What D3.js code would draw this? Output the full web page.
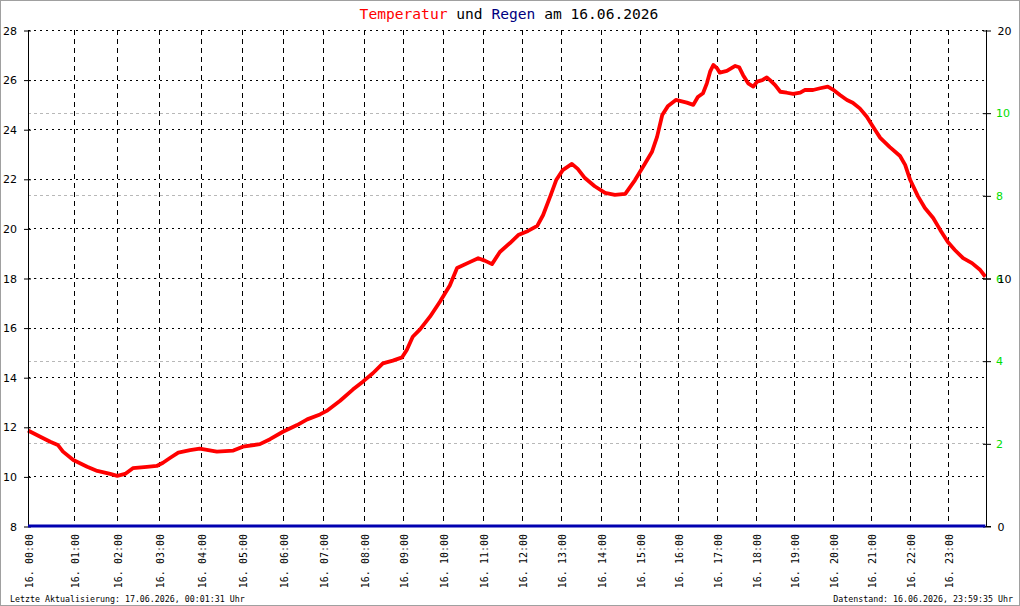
<!DOCTYPE html>
<html>
<head>
<meta charset="utf-8">
<script src="https://cdn.jsdelivr.net/npm/d3@7"></script>
<style>
  body { margin: 0; background: #fff; }
  svg { display: block; }
  .lbl { font-family: "DejaVu Sans", sans-serif; font-size: 11px; }
  .mono { font-family: "DejaVu Sans Mono", monospace; }
</style>
</head>
<body>
<div id="container"></div>
<script>
// temperature readings
var tempTimes = ["00:00","00:15","00:28","00:38","00:45","00:59","01:18","01:32","01:50","02:00",
  "02:11","02:22","02:42","02:56","03:05","03:15","03:27","03:44","03:58","04:23",
  "04:47","05:01","05:26","05:41","06:00","06:21","06:36","06:55","07:05","07:25",
  "07:44","07:59","08:14","08:29","08:44","08:58","09:05","09:14","09:25","09:40",
  "09:55","10:10","10:21","10:41","10:53","11:03","11:14","11:26","11:41","11:54",
  "12:09","12:23","12:32","12:43","12:52","13:02","13:16","13:25","13:36","13:51",
  "14:07","14:22","14:38","14:53","15:08","15:19","15:27","15:35","15:44","15:56",
  "16:13","16:23","16:30","16:38","16:44","16:49","16:54","17:00","17:04","17:15",
  "17:28","17:34","17:40","17:48","17:56","18:02","18:10","18:17","18:22","18:30",
  "18:38","18:48","18:58","19:09","19:16","19:29","19:40","19:52","20:00","20:11",
  "20:22","20:31","20:42","20:53","21:01","21:06","21:14","21:29","21:45","21:53",
  "22:01","22:13","22:24","22:37","22:48","23:00","23:11","23:24","23:38","23:51","23:59"];
var tempValues = [11.85,11.6,11.4,11.27,11.0,10.66,10.39,10.22,10.1,10.02,
  10.1,10.33,10.38,10.42,10.55,10.74,10.96,11.06,11.12,11.0,
  11.04,11.2,11.3,11.5,11.8,12.07,12.3,12.5,12.64,13.05,
  13.5,13.82,14.16,14.56,14.67,14.8,15.1,15.63,15.93,16.44,
  17.04,17.7,18.4,18.65,18.8,18.7,18.56,19.05,19.4,19.73,
  19.9,20.1,20.54,21.3,21.95,22.35,22.6,22.4,22.03,21.7,
  21.43,21.35,21.39,21.95,22.6,23.08,23.69,24.57,24.94,25.18,
  25.07,24.98,25.3,25.45,25.85,26.32,26.59,26.45,26.28,26.35,
  26.55,26.5,26.19,25.85,25.72,25.92,25.98,26.09,25.98,25.78,
  25.51,25.47,25.42,25.47,25.58,25.58,25.65,25.72,25.6,25.38,
  25.18,25.07,24.84,24.5,24.17,23.97,23.65,23.28,22.92,22.56,
  21.95,21.3,20.82,20.42,19.94,19.45,19.13,18.8,18.6,18.32,18.05];

// rain: nothing all day
var rainTimes = ["00:00","23:59"];
var rainValues = [0, 0];

var hourTicks = d3.range(0, 24);
var tempTicks = [8,10,12,14,16,18,20,22,24,26,28];
var rainTicks = [2,4,6,8,10];
var rainTicksBlack = [0,10,20];

var title = [["Temperatur", "#ff0000"], [" und ", "#000"], ["Regen", "#000080"], [" am 16.06.2026", "#000"]];
var dateLabel = "16.";
var footLeft = "Letzte Aktualisierung: 17.06.2026, 00:01:31 Uhr";
var footRight = "Datenstand: 16.06.2026, 23:59:35 Uhr";

function toHours(t) {
  var p = t.split(":");
  return +p[0] + (+p[1]) / 60;
}
function pad(n) { return (n < 10 ? "0" : "") + n; }

var width = 1020, height = 606;
var margin = {left: 28, right: 34, top: 30, bottom: 80};

var svg = d3.select("#container").append("svg")
  .attr("width", width)
  .attr("height", height);

svg.append("rect")
  .attr("x", 0.5).attr("y", 0.5)
  .attr("width", width - 1).attr("height", height - 1)
  .attr("fill", "#fff").attr("stroke", "#a0a0a0");

// the time axis of the source is slightly stretched in the morning
var x = d3.scalePow().exponent(0.955)
  .domain([0, 24])
  .range([margin.left, width - margin.right]);
var y = d3.scaleLinear().domain([8, 28]).range([height - margin.bottom, margin.top]);
var yRain = d3.scaleLinear().domain([0, 12]).range([height - margin.bottom, margin.top]);
var yRain2 = d3.scaleLinear().domain([0, 20]).range([height - margin.bottom, margin.top]);

var x0 = margin.left, x1 = width - margin.right;
var y0 = height - margin.bottom, y1 = margin.top;

// grey grid for the rain axis
svg.append("g").selectAll("line")
  .data(rainTicks).enter().append("line")
  .attr("x1", x0).attr("x2", x1)
  .attr("y1", d => Math.round(yRain(d)) + 0.5)
  .attr("y2", d => Math.round(yRain(d)) + 0.5)
  .attr("stroke", "#b8b8b8")
  .attr("stroke-dasharray", "3,3");

// dotted horizontal grid
svg.append("g").selectAll("line")
  .data(tempTicks.slice(1)).enter().append("line")
  .attr("x1", x0).attr("x2", x1)
  .attr("y1", d => Math.round(y(d)) + 0.5)
  .attr("y2", d => Math.round(y(d)) + 0.5)
  .attr("stroke", "#000")
  .attr("stroke-dasharray", "2,4");

// dashed vertical grid
svg.append("g").selectAll("line")
  .data(hourTicks.slice(1)).enter().append("line")
  .attr("x1", d => Math.round(x(d)) + 0.5)
  .attr("x2", d => Math.round(x(d)) + 0.5)
  .attr("y1", y1).attr("y2", y0)
  .attr("stroke", "#000")
  .attr("stroke-dasharray", "5,4");

// temperature line
var line = d3.line()
  .x((d, i) => x(toHours(tempTimes[i])))
  .y(d => y(d));
svg.append("path")
  .datum(tempValues)
  .attr("d", line)
  .attr("fill", "none")
  .attr("stroke", "#ff0000")
  .attr("stroke-width", 3.8)
  .attr("stroke-linejoin", "round");

// left axis
svg.append("line")
  .attr("x1", x0 + 0.5).attr("x2", x0 + 0.5)
  .attr("y1", y1).attr("y2", y0)
  .attr("stroke", "#000");
var leftAxis = svg.append("g")
  .attr("transform", "translate(" + (x0 + 3) + ",0.5)")
  .call(d3.axisLeft(y).tickValues(tempTicks).tickSize(7).tickPadding(7).tickSizeOuter(0));
leftAxis.select(".domain").remove();
leftAxis.selectAll("text").attr("class", "lbl").attr("font-size", null).attr("font-family", null);

// right axis
svg.append("line")
  .attr("x1", x1 + 0.5).attr("x2", x1 + 0.5)
  .attr("y1", y1).attr("y2", y0)
  .attr("stroke", "#000");
var rightGreen = svg.append("g")
  .attr("transform", "translate(" + (x1 - 3) + ",0.5)")
  .call(d3.axisRight(yRain).tickValues(rainTicks).tickSize(8).tickPadding(5).tickSizeOuter(0));
rightGreen.select(".domain").remove();
rightGreen.selectAll("text").attr("class", "lbl").attr("font-size", null).attr("font-family", null)
  .attr("fill", "#00dd00");
var rightBlack = svg.append("g")
  .attr("transform", "translate(" + (x1 - 3) + ",0.5)")
  .call(d3.axisRight(yRain2).tickValues(rainTicksBlack).tickSize(8).tickPadding(5).tickSizeOuter(0));
rightBlack.select(".domain").remove();
rightBlack.selectAll("text").attr("class", "lbl").attr("font-size", null).attr("font-family", null)
  .attr("dx", 1.5);

// bottom axis line and the rain series
svg.append("line")
  .attr("x1", x0).attr("x2", x1 + 5)
  .attr("y1", y0 + 0.5).attr("y2", y0 + 0.5)
  .attr("stroke", "#000");
var rainLine = d3.line()
  .x((d, i) => x(toHours(rainTimes[i])))
  .y(d => yRain(d));
svg.append("path")
  .datum(rainValues)
  .attr("d", rainLine)
  .attr("fill", "none")
  .attr("stroke", "#0000b0")
  .attr("stroke-width", 3);

// hour labels
svg.append("g").selectAll("text")
  .data(hourTicks).enter().append("text")
  .attr("class", "mono")
  .attr("font-size", "10px")
  .attr("text-anchor", "end")
  .attr("dy", "0.35em")
  .attr("transform", d => "translate(" + (x(d) + 1.5) + "," + (y0 + 8) + ") rotate(-90)")
  .attr("xml:space", "preserve")
  .text(d => dateLabel + " " + pad(d) + ":00");

// title
var t = svg.append("text")
  .attr("class", "mono")
  .attr("font-size", "14.6px")
  .attr("x", 509).attr("y", 19)
  .attr("text-anchor", "middle")
  .attr("xml:space", "preserve");
title.forEach(p => t.append("tspan").attr("fill", p[1]).text(p[0]));

// footer
svg.append("text")
  .attr("class", "mono").attr("font-size", "8.3px")
  .attr("x", 10).attr("y", 602)
  .text(footLeft);
svg.append("text")
  .attr("class", "mono").attr("font-size", "8.3px")
  .attr("x", 1013).attr("y", 602)
  .attr("text-anchor", "end")
  .text(footRight);
</script>
</body>
</html>
